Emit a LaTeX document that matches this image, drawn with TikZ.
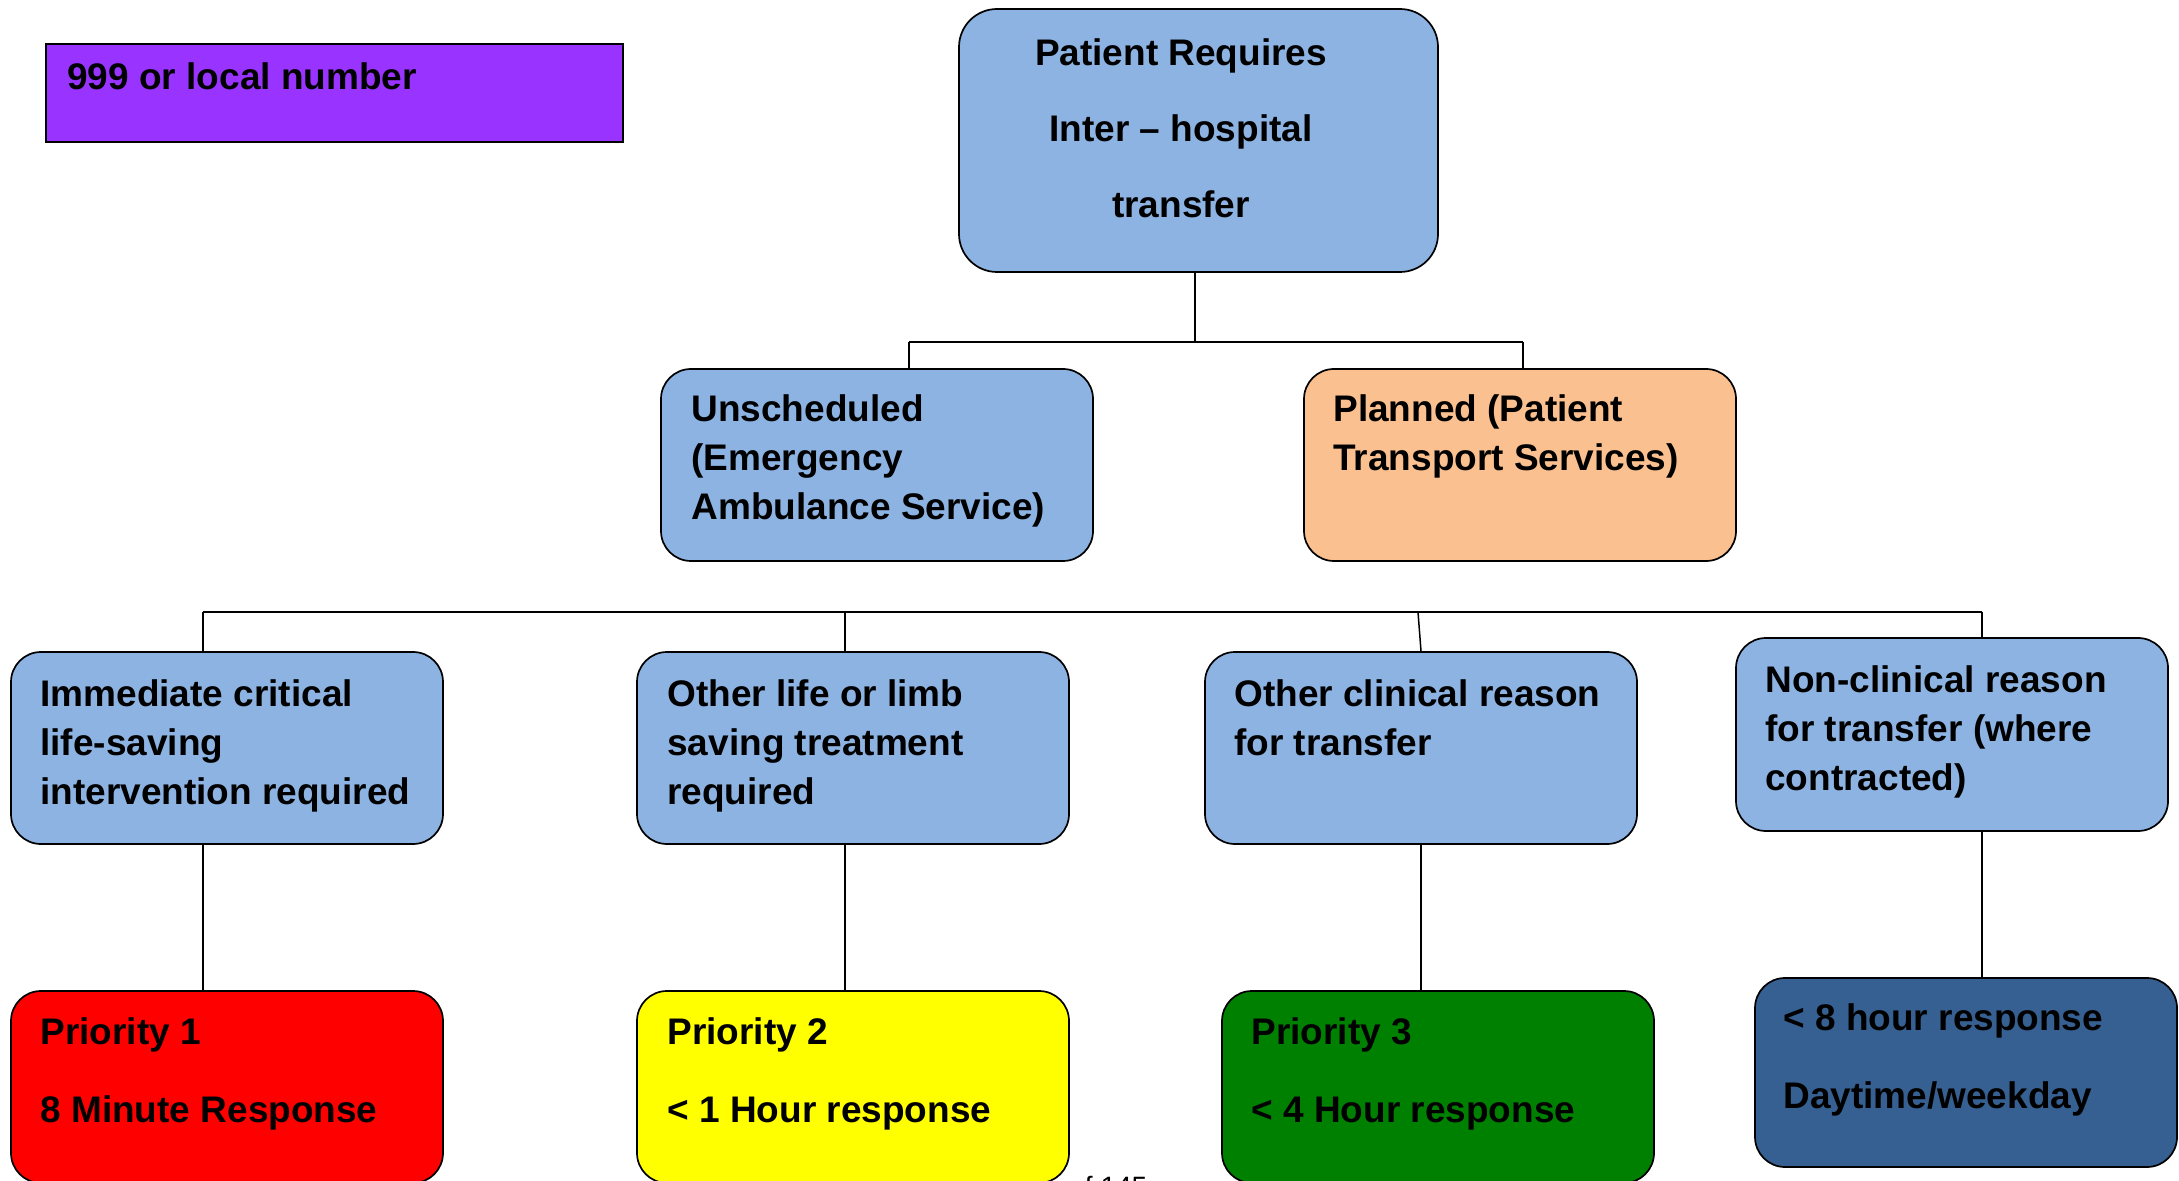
\documentclass[tikz,border=0pt]{standalone}
\usepackage{fontspec}
\setmainfont{Liberation Sans}
\usetikzlibrary{calc}

\definecolor{lblue}{HTML}{8DB3E2}
\definecolor{purplebox}{HTML}{9933FF}
\definecolor{peach}{HTML}{FAC090}
\definecolor{pred}{HTML}{FF0000}
\definecolor{pyellow}{HTML}{FFFF00}
\definecolor{pgreen}{HTML}{008000}
\definecolor{dblue}{HTML}{366092}

% multi-line labels, aligned on the baseline of their first line
\newcommand\lstack[1]{\begin{tabular}[t]{@{}l@{}}#1\end{tabular}}
\newcommand\cstack[1]{\begin{tabular}[t]{@{}c@{}}#1\end{tabular}}

\tikzset{
  rbox/.style={draw=black, line width=0.85pt, rounded corners=15pt, inner sep=0pt,
               minimum width=216pt, minimum height=96pt},
  sqbox/.style={draw=black, line width=1.3pt, inner sep=0pt},
  lbl/.style={inner sep=0pt, anchor=base west,
              font=\fontsize{18.5pt}{24.5pt}\selectfont\bfseries},
  widelbl/.style={lbl, font=\fontsize{18.5pt}{39pt}\selectfont\bfseries},
  conn/.style={draw=black, line width=0.75pt},
}

\begin{document}
\begin{tikzpicture}[x=0.5pt, y=-0.5pt]
\useasboundingbox (0,0) rectangle (2179,1181);

% page footer, running off the lower edge
\node[inner sep=0pt, anchor=base west, font=\fontsize{14pt}{16pt}\selectfont] (pagefoot) at (1069,1196) {of 145};

% call number box
\node[sqbox, fill=purplebox, minimum width=288.5pt, minimum height=49pt] (call) at (334.5,93) {};
\node[lbl] (callt) at (67,90) {999 or local number};

% root
\node[rbox, fill=lblue, rounded corners=19pt, minimum width=239.5pt, minimum height=131.5pt] (root) at (1198.5,140.5) {};
\node[lbl, anchor=base, font=\fontsize{18.5pt}{38pt}\selectfont\bfseries] (roott) at (1181,66)
  {\cstack{Patient Requires\\Inter -- hospital\\transfer}};

% second level
\node[rbox, fill=lblue] (unsch) at (877,465) {};
\node[lbl] (unscht) at (691,422) {\lstack{Unscheduled\\(Emergency\\Ambulance Service)}};
\node[rbox, fill=peach] (plan) at (1520,465) {};
\node[lbl] (plant) at (1333,422) {\lstack{Planned (Patient\\Transport Services)}};

% third level
\node[rbox, fill=lblue] (imm) at (227,748) {};
\node[lbl] (immt) at (40,706) {\lstack{Immediate critical\\life-saving\\intervention required}};
\node[rbox, fill=lblue] (oth) at (853,748) {};
\node[lbl] (otht) at (667,706) {\lstack{Other life or limb\\saving treatment\\required}};
\node[rbox, fill=lblue] (clin) at (1421,748) {};
\node[lbl] (clint) at (1234,706) {\lstack{Other clinical reason\\for transfer}};
\node[rbox, fill=lblue, minimum height=96.5pt] (nonc) at (1952,734.5) {};
\node[lbl] (nonct) at (1765,692) {\lstack{Non-clinical reason\\for transfer (where\\contracted)}};

% response boxes
\node[rbox, fill=pred] (p1) at (227,1087) {};
\node[widelbl] (p1t) at (40,1044) {\lstack{Priority 1\\8 Minute Response}};
\node[rbox, fill=pyellow] (p2) at (853,1087) {};
\node[widelbl] (p2t) at (667,1044) {\lstack{Priority 2\\< 1 Hour response}};
\node[rbox, fill=pgreen] (p3) at (1438,1087) {};
\node[widelbl] (p3t) at (1251,1044) {\lstack{Priority 3\\< 4 Hour response}};
\node[rbox, fill=dblue, minimum width=211pt, minimum height=94.5pt] (p4) at (1966,1072.5) {};
\node[widelbl] (p4t) at (1783,1030) {\lstack{< 8 hour response\\Daytime/weekday}};

% connector positions
\coordinate (t1) at (1195,342);
\coordinate (t1l) at (909,342);
\coordinate (t1r) at (1523,342);
\coordinate (b2l) at (203,612);
\coordinate (b2m) at (845,612);
\coordinate (b2c) at (1418,612);
\coordinate (b2r) at (1982,612);
\coordinate (xc) at (1421,0);

% root to second level
\draw[conn] (root.south -| t1) -- (t1);
\draw[conn] (t1l) -- (t1r);
\draw[conn] (t1l) -- (t1l |- unsch.north);
\draw[conn] (t1r) -- (t1r |- plan.north);

% bus to third level
\draw[conn] (b2l) -- (b2r);
\draw[conn] (b2l) -- (b2l |- imm.north);
\draw[conn] (b2m) -- (b2m |- oth.north);
\draw[conn] (b2c) -- (clin.north);
\draw[conn] (b2r) -- (b2r |- nonc.north);

% third level to responses
\draw[conn] (b2l |- imm.south) -- (b2l |- p1.north);
\draw[conn] (b2m |- oth.south) -- (b2m |- p2.north);
\draw[conn] (clin.south) -- (xc |- p3.north);
\draw[conn] (b2r |- nonc.south) -- (b2r |- p4.north);
\end{tikzpicture}
\end{document}
